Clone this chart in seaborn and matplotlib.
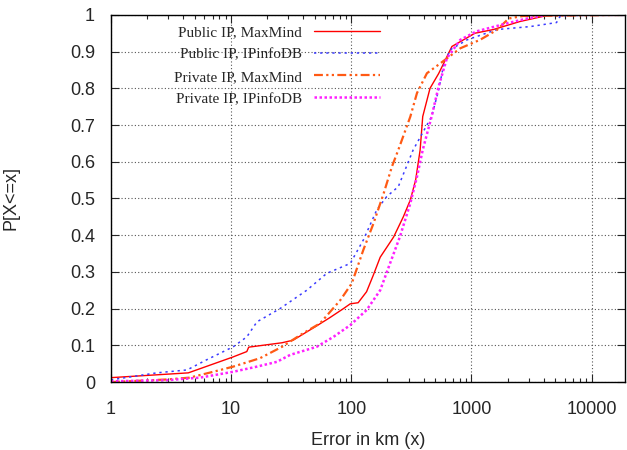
import numpy as np
import pandas as pd
import matplotlib
matplotlib.use("Agg")
from matplotlib import pyplot as plt
from matplotlib.ticker import LogLocator, NullFormatter, FixedLocator
import seaborn as sns

# error in km / cumulative fraction
pub_mm_x = [1, 4.4, 10.3, 13.5, 14, 26.5, 32.8, 51.5, 66, 86, 98, 114, 134, 152, 174,
            225, 271, 310, 343, 374, 393, 452, 533, 688, 1070, 1520, 2540, 4220, 20000]
pub_mm_y = [0.012, 0.025, 0.068, 0.083, 0.095, 0.107, 0.114, 0.153, 0.175, 0.2, 0.213, 0.216,
            0.246, 0.29, 0.34, 0.395, 0.45, 0.496, 0.55, 0.632, 0.723, 0.80, 0.84, 0.914,
            0.95, 0.96, 0.982, 0.998, 1.0]

pub_ip_x = [1, 2.4, 4.3, 6.2, 10.4, 13.5, 16.4, 25.5, 42.6, 62.5, 98, 126, 163, 197, 246,
            327, 466, 533, 583, 665, 920, 1630, 3070, 5100, 5520, 20000]
pub_ip_y = [0.006, 0.025, 0.033, 0.06, 0.096, 0.123, 0.164, 0.2, 0.25, 0.296, 0.323, 0.387,
            0.469, 0.505, 0.532, 0.632, 0.723, 0.795, 0.859, 0.905, 0.932, 0.96, 0.968,
            0.979, 0.998, 1.0]

priv_mm_x = [1, 2.9, 4.5, 7.1, 10.4, 17.4, 26.5, 37.6, 55, 81, 101, 126, 153, 186, 218, 246,
             310, 352, 426, 551, 808, 1180, 1630, 2040, 2700, 20000]
priv_mm_y = [0.0, 0.007, 0.012, 0.028, 0.042, 0.065, 0.096, 0.128, 0.16, 0.223, 0.269, 0.36,
             0.432, 0.514, 0.587, 0.632, 0.723, 0.787, 0.841, 0.868, 0.909, 0.932, 0.959,
             0.99, 0.997, 1.0]

priv_ip_x = [1, 2.9, 5.5, 10.4, 16.4, 24, 31, 51.5, 71, 98, 134, 174, 210, 254, 310, 352, 393,
             466, 533, 625, 808, 1100, 1980, 2900, 4220, 20000]
priv_ip_y = [0.002, 0.005, 0.012, 0.028, 0.042, 0.055, 0.074, 0.096, 0.123, 0.155, 0.196, 0.25,
             0.323, 0.396, 0.487, 0.559, 0.632, 0.723, 0.805, 0.882, 0.932, 0.955, 0.977,
             0.99, 1.0, 1.0]

series = [
    ("Public IP, MaxMind", pub_mm_x, pub_mm_y, "#ff0000", "-", 1.0),
    ("Public IP, IPinfoDB", pub_ip_x, pub_ip_y, "#3a3aff", (0, (1.5, 2.5)), 1.1),
    ("Private IP, MaxMind", priv_mm_x, priv_mm_y, "#ff5a14", (0, (4, 1.5, 1, 1.5, 1, 1.5)), 1.6),
    ("Private IP, IPinfoDB", priv_ip_x, priv_ip_y, "#ff20ff", (0, (1, 1)), 1.8),
]

sns.set_style("ticks")
plt.rcParams["font.family"] = ["Liberation Sans", "DejaVu Sans"]

fig = plt.figure(figsize=(6.27, 4.5), dpi=100)
ax = fig.add_axes([0.177, 0.151, 0.82, 0.816])

for name, xs, ys, col, ls, lw in series:
    df = pd.DataFrame({"x": xs, "y": ys})
    sns.lineplot(data=df, x="x", y="y", ax=ax, color=col, linestyle=ls,
                 linewidth=lw, label=name, estimator=None)

ax.set_xscale("log")
ax.set_xlim(1, 19000)
ax.set_ylim(0, 1)
ax.xaxis.set_major_locator(FixedLocator([1, 10, 100, 1000, 10000]))
ax.set_xticklabels(["1", "10", "100", "1000", "10000"])
ax.xaxis.set_minor_locator(LogLocator(base=10, subs=np.arange(2, 10)))
ax.xaxis.set_minor_formatter(NullFormatter())
yt = np.round(np.arange(0, 1.01, 0.1), 1)
ax.set_yticks(yt)
ax.set_yticklabels(["0"] + [f"{v:.1f}" for v in yt[1:-1]] + ["1"])

ax.tick_params(which="both", direction="in", top=True, right=True, labelsize=13, width=0.8)
ax.tick_params(which="major", length=6)
ax.tick_params(which="minor", length=3)
ax.tick_params(axis="x", which="major", pad=14)
ax.tick_params(axis="y", which="major", pad=11.5)
ax.grid(True, which="major", color="#555555", linestyle=(0, (1, 2)), linewidth=0.8)
for s in ax.spines.values():
    s.set_linewidth(1.0)
    s.set_color("black")

ax.set_xlabel("Error in km (x)", fontsize=13, labelpad=10)
ax.set_ylabel("P[X<=x]", fontsize=13, labelpad=36)

leg = ax.legend(loc="upper left", bbox_to_anchor=(0.105, 0.995), frameon=False, markerfirst=False,
                handlelength=4.3, prop={"family": "Liberation Serif", "size": 11},
                labelspacing=0.55, borderaxespad=0.2)
for t in leg.get_texts():
    t.set_ha("right")

fig.savefig("out.png", dpi=100)
